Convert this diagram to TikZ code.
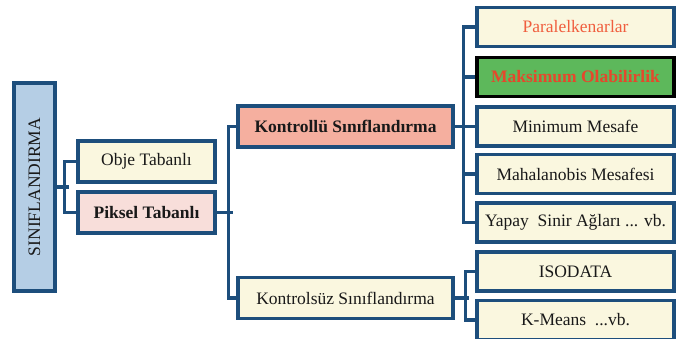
\documentclass[tikz,border=0pt]{standalone}
\usepackage{fontspec}
\setmainfont{Liberation Serif}
\usetikzlibrary{positioning}

\definecolor{navy}{HTML}{1D4E7C}
\definecolor{cream}{HTML}{FAF7DF}
\definecolor{pinkbox}{HTML}{F8DEDA}
\definecolor{salmon}{HTML}{F5AF9F}
\definecolor{lightblue}{HTML}{B5CEE5}
\definecolor{greenbox}{HTML}{5DB85B}
\definecolor{redtext}{HTML}{E5482C}
\definecolor{orangetext}{HTML}{F05E3E}

\tikzset{
    box/.style={draw=navy, line width=3.5pt, fill=cream, inner sep=2pt,
        font=\fontsize{17.5}{20}\selectfont, text=black!90},
    leftbox/.style={box, minimum width=137pt, minimum height=41pt},
    midbox/.style={box, minimum width=215pt, minimum height=41pt},
    rightbox/.style={box, minimum width=197pt, minimum height=39pt},
    link/.style={draw=navy, line width=3.5pt}
}

\begin{document}
\begin{tikzpicture}[x=1pt,y=-1pt]
    \useasboundingbox (0,0) rectangle (677,339);

    % root
    \node[box, fill=lightblue, minimum width=41pt, minimum height=208pt] (sinif) at (34.5,187) {};
    \node[rotate=90, font=\fontsize{17.5}{20}\selectfont, text=black!90] (sinifText) at (sinif.center) {SINIFLANDIRMA};

    % level 1
    \node[leftbox] (obje) at (146.5,161.5) {Obje Tabanlı};
    \node[leftbox, fill=pinkbox, font=\fontsize{17.5}{20}\selectfont\bfseries] (piksel) at (146.5,212.5) {Piksel Tabanlı};

    % level 2
    \node[midbox, fill=salmon, font=\fontsize{17.5}{20}\selectfont\bfseries] (kontrollu) at (345.5,126.5) {Kontrollü Sınıflandırma};
    \node[midbox] (kontrolsuz) at (345.5,298) {Kontrolsüz Sınıflandırma};

    % level 3
    \node[rightbox, text=orangetext] (para) at (575.5,27) {Paralelkenarlar};
    \node[rightbox, draw=black, fill=greenbox, text=redtext, font=\fontsize{17.5}{20}\selectfont\bfseries] (maks) at (575.5,77) {Maksimum Olabilirlik};
    \node[rightbox] (minmes) at (575.5,126.5) {Minimum Mesafe};
    \node[rightbox] (mahal) at (575.5,174) {Mahalanobis Mesafesi};
    \node[rightbox] (yapay) at (575.5,222.5) {Yapay\ \ Sinir Ağları ... vb.};
    \node[rightbox] (iso) at (575.5,271.5) {ISODATA};
    \node[rightbox] (kmeans) at (575.5,320) {K-Means\ \ ...vb.};

    % connectors
    \draw[link] (obje.west) -- ++(-12,0) |- (piksel.west);
    \draw[link] (sinif.east) -- ++(12,0);

    \draw[link] (kontrollu.west) -- ++(-8,0) |- (kontrolsuz.west);
    \draw[link] (piksel.east) -- ++(16,0);

    \draw[link] (para.west) -- ++(-12,0) |- (yapay.west);
    \foreach \n in {maks,mahal}
        \draw[link] (\n.west) -- ++(-12,0);
    \draw[link] (kontrollu.east) -- (minmes.west);

    \draw[link] (iso.west) -- ++(-10,0) |- (kmeans.west);
    \draw[link] (kontrolsuz.east) -- ++(14,0);
\end{tikzpicture}
\end{document}
